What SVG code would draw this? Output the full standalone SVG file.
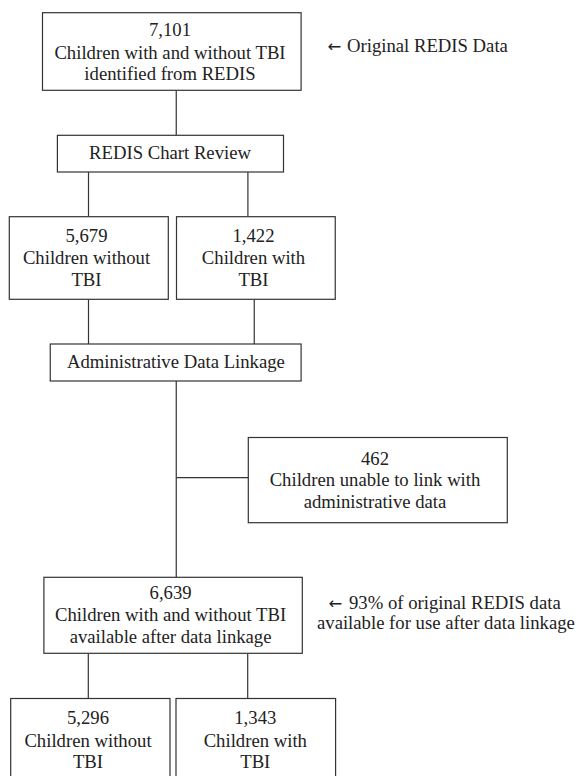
<svg xmlns="http://www.w3.org/2000/svg" width="588" height="776" viewBox="0 0 588 776">
<style>
  .box { fill: #ffffff; stroke: #333333; stroke-width: 1.2; }
  .conn { fill: none; stroke: #333333; stroke-width: 1.2; }
  text { font-family: "Liberation Serif", "Times New Roman", serif; font-size: 18.7px; fill: #222222; }
  .c { text-anchor: middle; }
  .arr { font-family: "DejaVu Sans", sans-serif; font-size: 16.5px; }
</style>
<rect width="588" height="776" fill="#ffffff"/>
<g id="connectors">
  <line class="conn" x1="176.25" y1="90.3" x2="176.25" y2="135.3"/>
  <line class="conn" x1="88.5" y1="172" x2="88.5" y2="216.7"/>
  <line class="conn" x1="247.9" y1="172" x2="247.9" y2="216.7"/>
  <line class="conn" x1="88.5" y1="299.3" x2="88.5" y2="344"/>
  <line class="conn" x1="254.25" y1="299.3" x2="254.25" y2="344"/>
  <line class="conn" x1="176.25" y1="381" x2="176.25" y2="577.3"/>
  <line class="conn" x1="176.25" y1="477.7" x2="248.3" y2="477.7"/>
  <line class="conn" x1="88.3" y1="653.3" x2="88.3" y2="698.5"/>
  <line class="conn" x1="247.7" y1="653.3" x2="247.7" y2="698.5"/>
</g>
<g id="n1">
  <rect class="box" x="42.5" y="12.7" width="258.6" height="77.6"/>
  <text class="c" x="170" y="36">7,101</text>
  <text class="c" x="170" y="58.5">Children with and without TBI</text>
  <text class="c" x="170" y="80">identified from REDIS</text>
</g>
<g id="note1">
  <text x="327.5" y="51.5"><tspan class="arr">←</tspan><tspan x="347">Original REDIS Data</tspan></text>
</g>
<g id="n2">
  <rect class="box" x="57.4" y="135.3" width="226.1" height="36.7"/>
  <text class="c" x="170" y="159.3">REDIS Chart Review</text>
</g>
<g id="n3">
  <rect class="box" x="9.3" y="216.7" width="159" height="82.6"/>
  <text class="c" x="86.5" y="242">5,679</text>
  <text class="c" x="86.5" y="264.3">Children without</text>
  <text class="c" x="86.5" y="286">TBI</text>
</g>
<g id="n4">
  <rect class="box" x="176.5" y="216.7" width="158.75" height="82.6"/>
  <text class="c" x="253.5" y="242">1,422</text>
  <text class="c" x="253.5" y="264.3">Children with</text>
  <text class="c" x="253.5" y="286">TBI</text>
</g>
<g id="n5">
  <rect class="box" x="50.25" y="344" width="250.85" height="37"/>
  <text class="c" x="175.9" y="367.7">Administrative Data Linkage</text>
</g>
<g id="n6">
  <rect class="box" x="248.3" y="437.5" width="259" height="85.2"/>
  <text class="c" x="375" y="465">462</text>
  <text class="c" x="375" y="486.3">Children unable to link with</text>
  <text class="c" x="375" y="507.5">administrative data</text>
</g>
<g id="n7">
  <rect class="box" x="43.9" y="577.3" width="258.4" height="76"/>
  <text class="c" x="170.6" y="599.3">6,639</text>
  <text class="c" x="170.6" y="620.7">Children with and without TBI</text>
  <text class="c" x="170.6" y="642.7">available after data linkage</text>
</g>
<g id="note2">
  <text x="328.5" y="608.5"><tspan class="arr">←</tspan><tspan x="349">93% of original REDIS data</tspan></text>
  <text x="317" y="629">available for use after data linkage</text>
</g>
<g id="n8">
  <rect class="box" x="10.7" y="698.5" width="159.3" height="100"/>
  <text class="c" x="88" y="724.3">5,296</text>
  <text class="c" x="88" y="746.5">Children without</text>
  <text class="c" x="88" y="768">TBI</text>
</g>
<g id="n9">
  <rect class="box" x="176" y="698.5" width="159.6" height="100"/>
  <text class="c" x="255.3" y="724.3">1,343</text>
  <text class="c" x="255.3" y="746.5">Children with</text>
  <text class="c" x="255.3" y="768">TBI</text>
</g>
</svg>
